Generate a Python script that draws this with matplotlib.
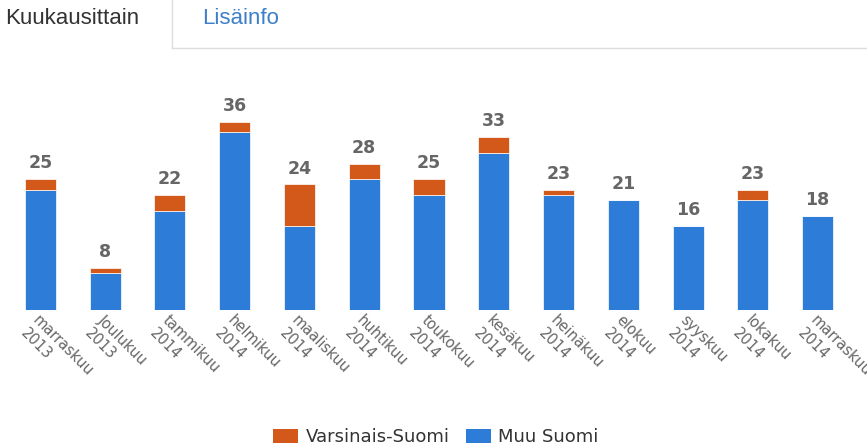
import numpy as np
import matplotlib
matplotlib.use("Agg")
import matplotlib.pyplot as plt
from matplotlib.patches import Patch
from matplotlib.lines import Line2D

# monthly counts, stacked: Varsinais-Suomi on top of Muu Suomi
months = ["marraskuu\n2013", "Joulukuu\n2013", "tammikuu\n2014", "helmikuu\n2014",
          "maaliskuu\n2014", "huhtikuu\n2014", "toukokuu\n2014", "kesäkuu\n2014",
          "heinäkuu\n2014", "elokuu\n2014", "syyskuu\n2014", "lokakuu\n2014",
          "marraskuu\n2014"]
varsinais = [2, 1, 3, 2, 8, 3, 3, 3, 1, 0, 0, 2, 0]
muu = [23, 7, 19, 34, 16, 25, 22, 30, 22, 21, 16, 21, 18]

BLUE = "#2d7cd8"
ORANGE = "#d2591a"
GREY = "#666666"

W, H = 867, 448
fig = plt.figure(figsize=(W / 100, H / 100), dpi=100)
ax = fig.add_axes([8 / W, 138 / H, 842 / W, 220 / H])

x = np.arange(len(months))
muu_a = np.array(muu)
var_a = np.array(varsinais)
tot = muu_a + var_a
ax.bar(x, muu_a, width=0.48, color=BLUE, edgecolor="white", linewidth=0.5)
ax.bar(x, var_a, width=0.48, bottom=muu_a, color=ORANGE, edgecolor="white", linewidth=0.5)
for xi, t in zip(x, tot):
    ax.annotate(str(t), (xi, t), xytext=(0, 5), textcoords="offset points",
                ha="center", va="bottom", fontsize=12.5, fontweight="bold", color=GREY)

ax.set_xlim(-0.5, len(months) - 0.5)
ax.set_ylim(0, 220 / 5.23)
ax.set_yticks([])
ax.set_xticks(x)
ax.set_xticklabels(months, rotation=-45, ha="left", va="top", rotation_mode="anchor",
                   fontsize=10.5, color=GREY)
ax.tick_params(axis="x", length=0, pad=2)
for s in ax.spines.values():
    s.set_visible(False)

# tab header
fig.text(5 / W, 1 - 18 / H, "Kuukausittain", va="center", ha="left", fontsize=16,
         color="#333333", family="Liberation Sans")
fig.text(202 / W, 1 - 18 / H, "Lisäinfo", va="center", ha="left", fontsize=16,
         color="#3d7fc9", family="Liberation Sans")
fig.add_artist(Line2D([172 / W, 172 / W], [1, 1 - 48 / H], color="#dddddd", lw=1))
fig.add_artist(Line2D([172 / W, 1], [1 - 48 / H, 1 - 48 / H], color="#dddddd", lw=1))

fig.legend(handles=[Patch(facecolor=ORANGE, label="Varsinais-Suomi"),
                    Patch(facecolor=BLUE, label="Muu Suomi")],
           loc="center", bbox_to_anchor=(436 / W, 1 - 437 / H), ncol=2, frameon=False,
           fontsize=13, handlelength=1.4, handleheight=0.85, columnspacing=0.9,
           handletextpad=0.4, labelcolor="#333333", borderpad=0.2)

fig.savefig("out.png", dpi=100)
